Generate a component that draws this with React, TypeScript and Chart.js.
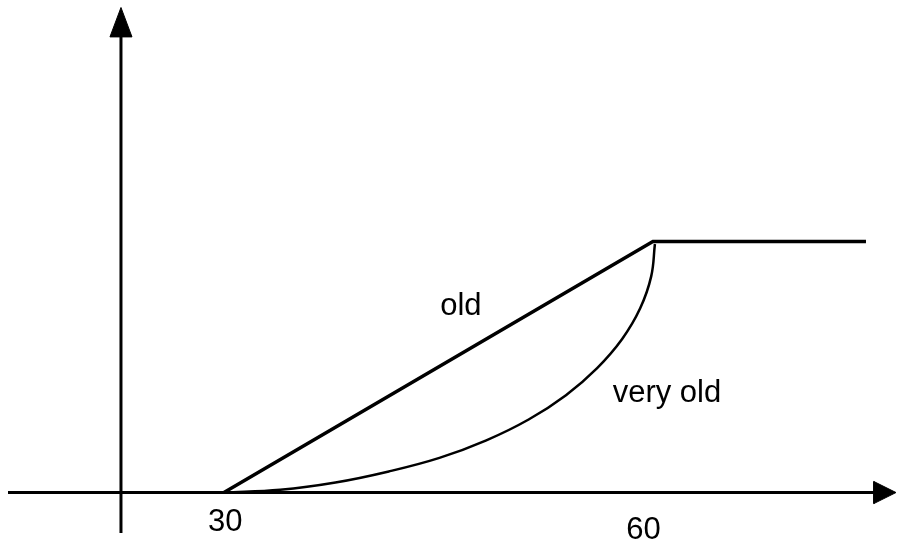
import React, { useEffect, useRef } from "react";
import { Chart, registerables } from "chart.js";

Chart.register(...registerables);

// "old" path: straight rise from 30 to 60, then flat
const oldX = [30, 60, 74.9];
const oldY = [0, 100, 100];

// "very old" curve
const veryOldX = [30, 33.94, 37.8, 41.53, 45.07, 48.35, 51.31, 53.92, 56.1, 57.85, 59.11, 59.88, 60.14];
const veryOldY = [0, 1.1, 4.0, 8.4, 13.8, 20.8, 29.1, 38.8, 49.6, 61.2, 73.4, 86.1, 99];

// axes lines
const xAxisLineX = [14.9, 75.6];
const xAxisLineY = [0, 0];
const yAxisLineX = [22.8, 22.8];
const yAxisLineY = [-16.1, 181.6];

// arrow heads (tip, base, base, tip)
const xArrowX = [77.0, 75.45, 75.45, 77.0];
const xArrowY = [0, 4.4, -4.4, 0];
const yArrowX = [22.8, 22.03, 23.57, 22.8];
const yArrowY = [193.2, 181.5, 181.5, 193.2];

// text labels
const labelTexts = ["old", "very old", "30", "60"];
const labelX = [46.57, 60.98, 30.1, 59.34];
const labelY = [70.7, 36.1, -15.3, -18.5];

const X_MIN = 14.34;
const X_MAX = 77.07;
const Y_MIN = -20.5;
const Y_MAX = 196.2;

const zip = (xs: number[], ys: number[]) => xs.map((x, i) => ({ x, y: ys[i] }));

const textPlugin = {
  id: "textLabels",
  afterDatasetsDraw(chart: any) {
    const { ctx, scales } = chart;
    ctx.save();
    ctx.fillStyle = "#000";
    ctx.font = '31px "Liberation Sans", Arial, sans-serif';
    ctx.textAlign = "center";
    ctx.textBaseline = "alphabetic";
    labelTexts.forEach((t, i) => {
      const px = scales.x.getPixelForValue(labelX[i]);
      const py = scales.y.getPixelForValue(labelY[i]);
      ctx.fillText(t, px, py);
    });
    ctx.restore();
  },
};

export default function App() {
  const ref = useRef<HTMLCanvasElement | null>(null);
  useEffect(() => {
    if (!ref.current) return;
    const base = {
      showLine: true,
      pointRadius: 0,
      pointHoverRadius: 0,
      borderColor: "#000",
      backgroundColor: "#000",
      fill: false,
    };
    const chart = new Chart(ref.current, {
      type: "scatter",
      data: {
        datasets: [
          { ...base, label: "x axis", data: zip(xAxisLineX, xAxisLineY), borderWidth: 3 },
          { ...base, label: "y axis", data: zip(yAxisLineX, yAxisLineY), borderWidth: 3 },
          { ...base, label: "x arrow", data: zip(xArrowX, xArrowY), borderWidth: 1, fill: "shape" },
          { ...base, label: "y arrow", data: zip(yArrowX, yArrowY), borderWidth: 1, fill: "shape" },
          { ...base, label: "old", data: zip(oldX, oldY), borderWidth: 3.5, borderJoinStyle: "miter" },
          {
            ...base,
            label: "very old",
            data: zip(veryOldX, veryOldY),
            borderWidth: 2.5,
            tension: 0.4,
          },
        ],
      },
      options: {
        animation: false,
        responsive: true,
        maintainAspectRatio: false,
        layout: { padding: 0 },
        plugins: { legend: { display: false }, tooltip: { enabled: false } },
        scales: {
          x: { type: "linear", min: X_MIN, max: X_MAX, display: false },
          y: { type: "linear", min: Y_MIN, max: Y_MAX, display: false },
        },
      },
      plugins: [textPlugin],
    } as any);
    return () => chart.destroy();
  }, []);
  return (
    <div style={{ position: "absolute", left: 0, top: 0, width: 897, height: 544, background: "#fff" }}>
      <canvas ref={ref} />
    </div>
  );
}
